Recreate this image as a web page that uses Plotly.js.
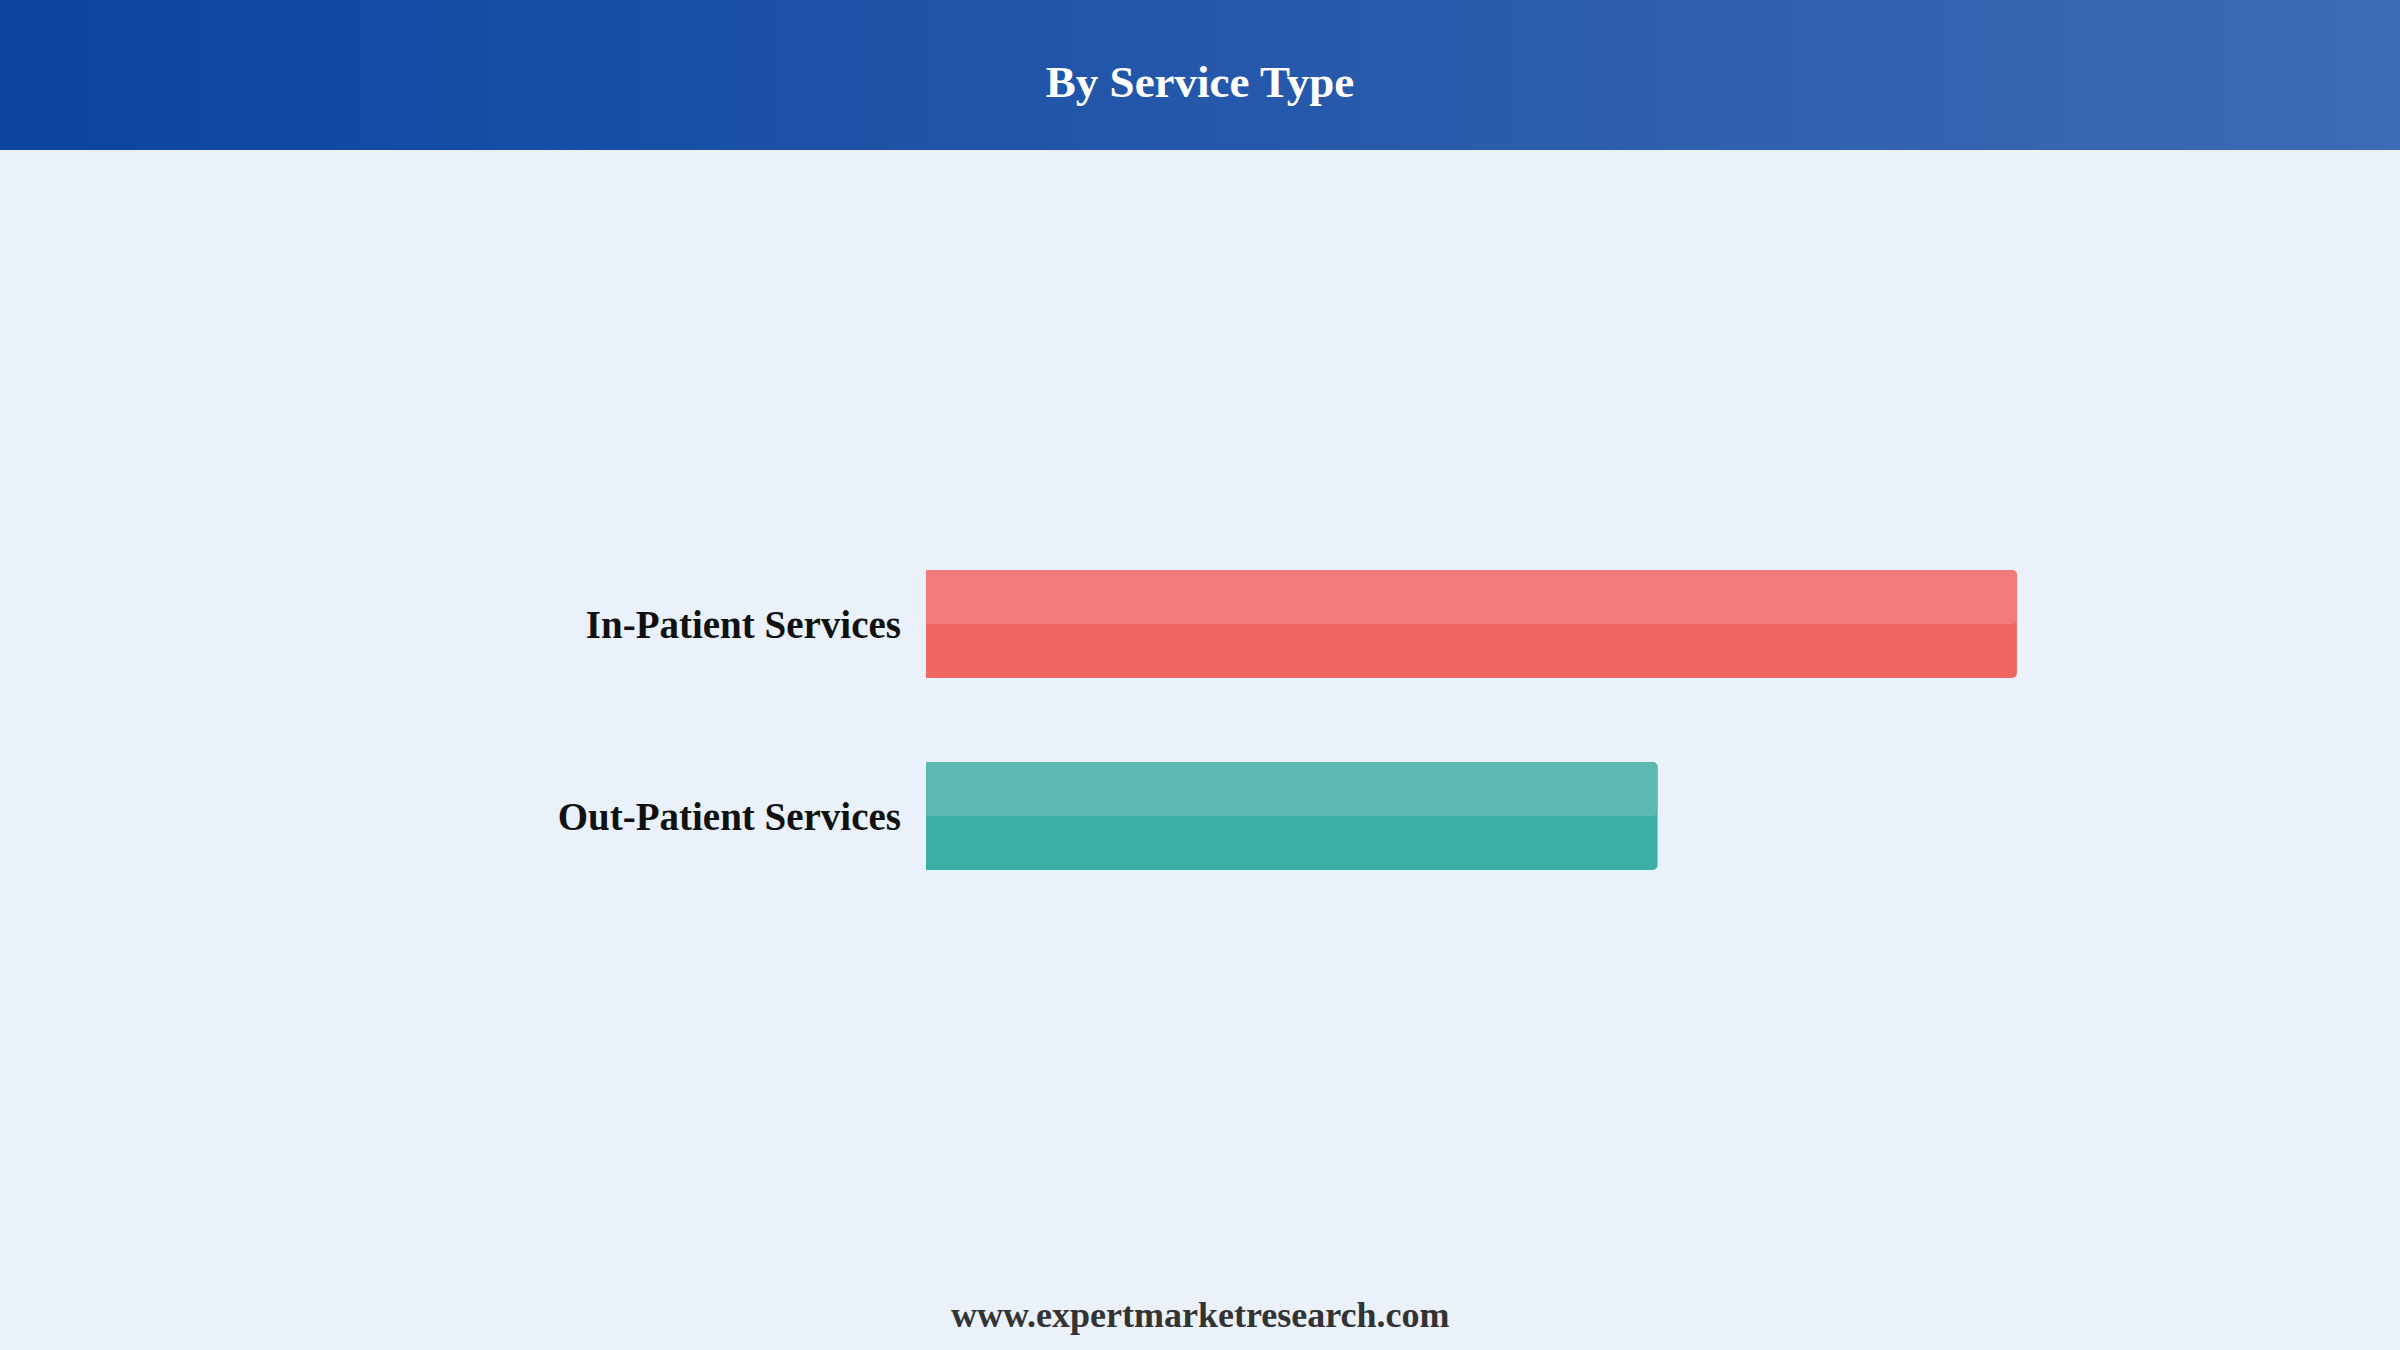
<!DOCTYPE html>
<html>
<head>
<meta charset="utf-8">
<script src="https://cdn.plot.ly/plotly-3.0.1.min.js"></script>
<style>
  html, body { margin:0; padding:0; background:#EAF1FB; }
  #header {
    position:absolute; left:0; top:0; width:2400px; height:150px;
    background: linear-gradient(to right, #0B44A0, #3D6BB4);
  }
  #myDiv { position:absolute; left:0; top:0; width:2400px; height:1350px; }
</style>
</head>
<body>
<div id="header"></div>
<div id="myDiv"></div>
<script>
/* chart data */
var categories = ["In-Patient Services", "Out-Patient Services"];
var shareValues = [59.8, 40.1];
var darkColors = ["#EF6663", "#3BAFA6"];
var lightColors = ["#F07B7A", "#5BB9B2"];

function makeBarTraces() {
  // full bar in the darker tone, then the top half in the lighter tone
  var base = {
    type: "bar", orientation: "h",
    x: shareValues, y: categories,
    width: 0.5625,
    marker: { color: darkColors, line: { width: 0 }, cornerradius: 5 },
    hoverinfo: "x+y", showlegend: false
  };
  var top = {
    type: "bar", orientation: "h",
    x: shareValues, y: categories,
    width: 0.28125, offset: -0.28125,
    marker: { color: lightColors, line: { width: 0 }, cornerradius: 5 },
    hoverinfo: "skip", showlegend: false
  };
  return [base, top];
}

function getLayout() {
  var serif = "Liberation Serif, Times New Roman, serif";
  return {
    width: 2400, height: 1350,
    paper_bgcolor: "rgba(0,0,0,0)",
    plot_bgcolor: "rgba(0,0,0,0)",
    margin: { l: 926, r: 197, t: 240, b: 150, pad: 0 },
    barmode: "overlay",
    title: {
      text: "By Service Type",
      x: 0.5, xanchor: "center", xref: "container",
      y: 1 - 81 / 1350, yanchor: "middle", yref: "container",
      font: { family: serif, size: 45, color: "#FFFFFF", weight: "bold" }
    },
    xaxis: {
      range: [0, 70],
      visible: false, showgrid: false, zeroline: false, fixedrange: true
    },
    yaxis: {
      type: "category",
      categoryorder: "array", categoryarray: categories,
      range: [3, -2],
      showgrid: false, zeroline: false, showline: false,
      ticks: "", ticklabelstandoff: 24,
      tickfont: { family: serif, size: 39, color: "#111111", weight: "bold" },
      fixedrange: true
    },
    annotations: [{
      text: "www.expertmarketresearch.com",
      xref: "paper", yref: "paper",
      x: (1200 - 926) / (2400 - 926 - 197), y: -(1315 - 1200) / 960,
      xanchor: "center", yanchor: "middle", showarrow: false,
      font: { family: serif, size: 36, color: "#333333", weight: "bold" }
    }]
  };
}

Plotly.newPlot("myDiv", makeBarTraces(), getLayout(), { displayModeBar: false, staticPlot: true });
</script>
</body>
</html>
